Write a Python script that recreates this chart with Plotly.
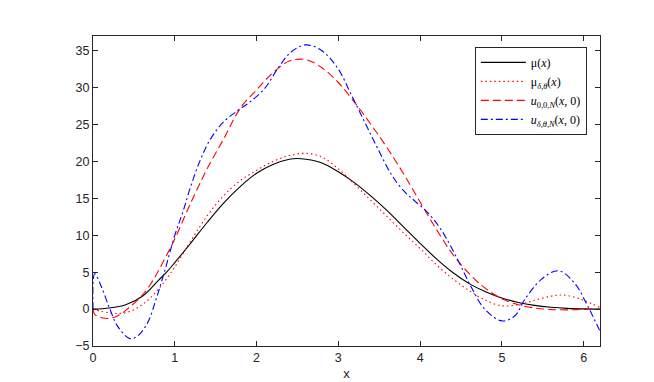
import plotly.graph_objects as go

# ─── DATA ───────────────────────────────────────────────────────
x_mu = [0, 0.2, 0.4, 0.6, 0.8, 0.9, 1.0, 1.2, 1.4, 1.6, 1.8, 2.0, 2.2, 2.4, 2.5,
        2.6, 2.8, 3.0, 3.2, 3.4, 3.6, 3.8, 4.0, 4.2, 4.4, 4.6, 4.8, 5.0, 5.2,
        5.4, 5.6, 5.8, 6.0, 6.2]
mu = [0, 0.15, 0.6, 1.7, 3.9, 5.0, 6.3, 9.0, 11.8, 14.4, 16.6, 18.4, 19.6, 20.3, 20.4,
      20.3, 19.8, 18.6, 17.1, 15.3, 13.3, 11.1, 8.9, 6.8, 4.95, 3.45, 2.35, 1.5, 0.9,
      0.5, 0.25, 0.1, 0.03, 0]

x_mu_dt = [0, 0.1, 0.2, 0.3, 0.4, 0.5, 0.6, 0.7, 0.8, 0.9, 1.0, 1.2, 1.4, 1.6, 1.8,
           2.0, 2.2, 2.4, 2.6, 2.8, 3.0, 3.2, 3.4, 3.6, 3.8, 4.0, 4.2, 4.4, 4.6,
           4.8, 5.0, 5.2, 5.4, 5.6, 5.7, 5.8, 6.0, 6.2]
mu_dt = [0, -0.3, -0.5, -0.6, -0.5, -0.1, 0.6, 1.5, 2.7, 4.1, 5.7, 9.3, 12.7, 15.4, 17.4,
         18.8, 20.0, 20.8, 21.1, 20.6, 19.0, 16.9, 14.7, 12.5, 10.3, 8.2, 6.0, 4.1, 2.5,
         1.2, 0.45, 0.6, 1.2, 1.75, 1.9, 1.85, 1.2, 0.2]

x_u00 = [0, 0.02, 0.15, 0.26, 0.35, 0.45, 0.58, 0.7, 0.8, 0.9, 1.0, 1.2, 1.4, 1.6, 1.8,
         2.0, 2.2, 2.4, 2.6, 2.8, 3.0, 3.2, 3.4, 3.6, 3.8, 4.0, 4.2, 4.4, 4.6, 4.8,
         5.0, 5.2, 5.4, 5.6, 5.8, 6.0, 6.2]
u00 = [0, -0.7, -1.25, -1.1, -0.6, 0.3, 1.6, 3.3, 5.2, 7.3, 9.5, 14.5, 19.1, 23.1, 27.2,
       29.7, 32.0, 33.6, 33.8, 32.7, 30.7, 28.0, 25.0, 21.8, 18.3, 14.5, 10.8, 7.4, 4.8, 2.8,
       1.4, 0.6, 0.15, -0.05, -0.1, -0.05, 0]

x_udt = [0, 0.02, 0.1, 0.2, 0.3, 0.45, 0.55, 0.67, 0.77, 0.87, 1.0, 1.1, 1.2, 1.32, 1.44,
         1.6, 1.77, 1.9, 2.1, 2.26, 2.42, 2.6, 2.8, 3.0, 3.16, 3.32, 3.48, 3.65, 3.81,
         3.95, 4.1, 4.26, 4.46, 4.62, 4.79, 5.0, 5.16, 5.28, 5.48, 5.69, 5.89, 6.05, 6.2]
udt = [0, 4.8, 3.1, 0.2, -2.3, -4.0, -3.6, -1.8, 1.3, 4.9, 10.0, 13.2, 16.8, 20.4, 23.1,
       25.4, 26.9, 27.9, 29.9, 32.6, 34.8, 35.8, 35.0, 32.5, 29.0, 25.4, 21.8, 18.2, 15.9,
       14.5, 13.0, 10.7, 6.7, 3.1, 0, -1.6, -0.9, 1.3, 4.0, 5.2, 3.5, 0.4, -3.0]

x_ticks = [0, 1, 2, 3, 4, 5, 6]
y_ticks = [-5, 0, 5, 10, 15, 20, 25, 30, 35]

AX = "#262626"
SANS = "Liberation Sans, Arial"

fig = go.Figure()
fig.add_trace(go.Scatter(x=x_mu, y=mu, mode="lines", line_shape="spline",
    line=dict(color="black", width=1.1), name="μ(<i>x</i>)"))
fig.add_trace(go.Scatter(x=x_mu_dt, y=mu_dt, mode="lines", line_shape="spline",
    line=dict(color="#ff0000", width=1.1, dash="1.5px,3px"),
    name="μ<sub><i>δ,θ</i></sub>(<i>x</i>)"))
fig.add_trace(go.Scatter(x=x_u00, y=u00, mode="lines", line_shape="spline",
    line=dict(color="#ff0000", width=1.1, dash="8px,4px"),
    name="<i>u</i><sub>0,0,<i>N</i></sub>(<i>x</i>, 0)"))
fig.add_trace(go.Scatter(x=x_udt, y=udt, mode="lines", line_shape="spline",
    line=dict(color="#0000ff", width=1.1, dash="7px,3px,2px,3px"),
    name="<i>u</i><sub><i>δ,θ,N</i></sub>(<i>x</i>, 0)"))

axis_common = dict(showgrid=False, zeroline=False, showline=True, linecolor=AX,
                   linewidth=1, mirror="ticks", ticks="inside", ticklen=5,
                   tickcolor=AX, tickfont=dict(family=SANS, size=12.5, color=AX))
fig.update_layout(
    width=654, height=382,
    margin=dict(l=85, r=62, t=28, b=42),
    paper_bgcolor="white", plot_bgcolor="white",
    xaxis=dict(range=[0, 6.2], tickvals=x_ticks,
               title=dict(text="x", standoff=4, font=dict(family=SANS, size=13, color=AX)),
               **axis_common),
    yaxis=dict(range=[-5, 37], tickvals=y_ticks, **axis_common),
    legend=dict(x=0.974, y=0.965, xanchor="right", yanchor="top",
                bgcolor="white", bordercolor=AX, borderwidth=1,
                font=dict(family="Liberation Serif, DejaVu Serif", size=12, color="black"),
                itemwidth=45, tracegroupgap=0),
)
fig.write_html("out.html")
